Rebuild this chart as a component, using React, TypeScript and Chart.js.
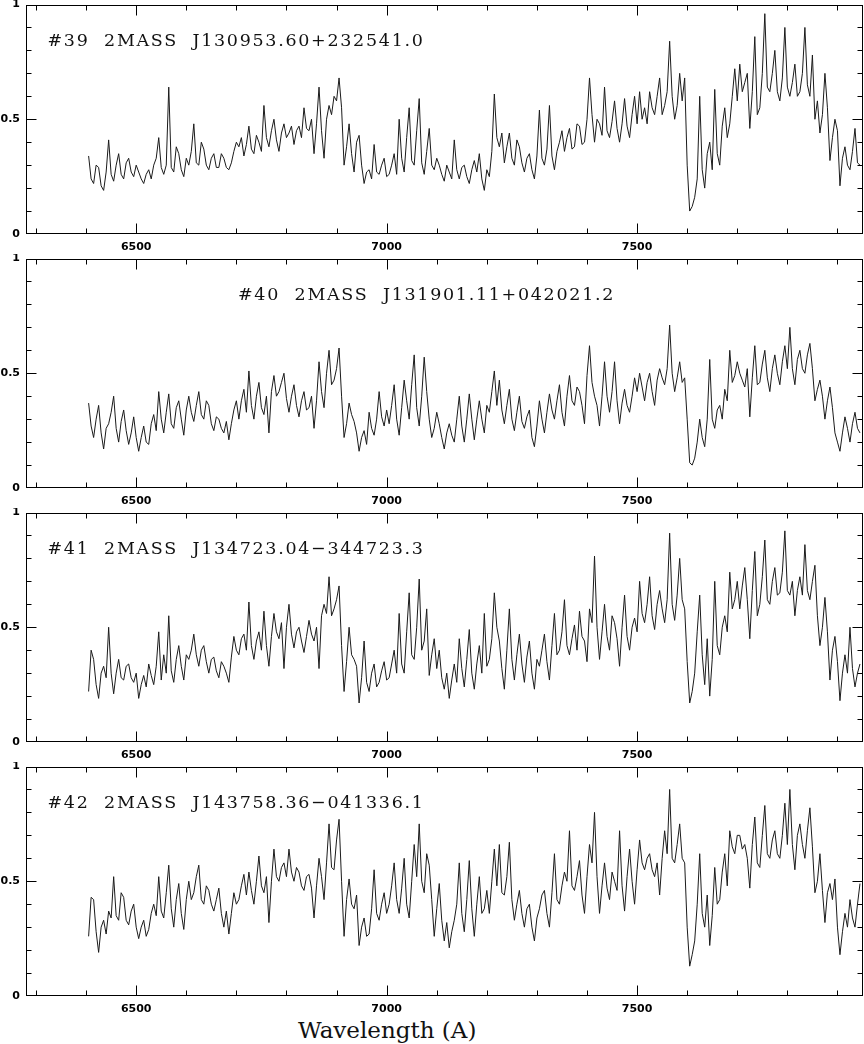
import React, { useEffect, useRef } from "react";
import { Chart, registerables } from "chart.js";

Chart.register(...registerables);

// ---- axis / grid data ----
const WAVE_START = 6405; // first sample (Angstrom)
const WAVE_STEP = 5;
const X_MIN = 6280;
const X_MAX = 7950;
const Y_MIN = 0;
const Y_MAX = 1;
const X_TICK_LABELS = [6500, 7000, 7500];
const Y_TICK_LABELS = [0, 0.5, 1];
const X_MINOR_TICKS = [
  6300, 6400, 6500, 6600, 6700, 6800, 6900, 7000, 7100, 7200, 7300, 7400,
  7500, 7600, 7700, 7800, 7900,
];
const X_MAJOR_TICKS = [6500, 7000, 7500];
const Y_MINOR_TICKS = [0.1, 0.2, 0.3, 0.4, 0.5, 0.6, 0.7, 0.8, 0.9];
const Y_MAJOR_TICKS = [0.5];

// ---- panel titles ----
const TITLES = [
  "#39  2MASS  J130953.60+232541.0",
  "#40  2MASS  J131901.11+042021.2",
  "#41  2MASS  J134723.04\u2212344723.3",
  "#42  2MASS  J143758.36\u2212041336.1",
];
const X_AXIS_TITLE = "Wavelength (A)";

// ---- flux values (one row = 100 A, from 6405 A in 5 A steps) ----
const FLUX_39 = [
  0.34, 0.24, 0.22, 0.30, 0.29, 0.21, 0.19, 0.27, 0.41, 0.26, 0.23, 0.30, 0.35, 0.26, 0.24, 0.31, 0.33, 0.27, 0.25, 0.30,
  0.27, 0.24, 0.22, 0.26, 0.28, 0.24, 0.30, 0.33, 0.42, 0.29, 0.26, 0.30, 0.64, 0.29, 0.27, 0.38, 0.35, 0.28, 0.25, 0.33,
  0.30, 0.36, 0.48, 0.31, 0.30, 0.40, 0.37, 0.30, 0.28, 0.33, 0.35, 0.29, 0.29, 0.35, 0.33, 0.29, 0.28, 0.31, 0.36, 0.40,
  0.38, 0.42, 0.34, 0.39, 0.47, 0.37, 0.35, 0.43, 0.40, 0.36, 0.56, 0.42, 0.38, 0.45, 0.50, 0.41, 0.36, 0.44, 0.48, 0.42,
  0.44, 0.47, 0.39, 0.45, 0.47, 0.42, 0.55, 0.46, 0.45, 0.50, 0.35, 0.48, 0.64, 0.45, 0.33, 0.50, 0.56, 0.52, 0.60, 0.58,
  0.68, 0.55, 0.30, 0.38, 0.48, 0.35, 0.27, 0.40, 0.43, 0.30, 0.22, 0.27, 0.28, 0.24, 0.39, 0.27, 0.26, 0.30, 0.33, 0.25,
  0.26, 0.30, 0.35, 0.26, 0.50, 0.33, 0.27, 0.42, 0.55, 0.32, 0.30, 0.45, 0.59, 0.31, 0.26, 0.36, 0.46, 0.30, 0.28, 0.33,
  0.30, 0.26, 0.23, 0.30, 0.27, 0.24, 0.41, 0.28, 0.24, 0.29, 0.30, 0.25, 0.22, 0.28, 0.32, 0.27, 0.35, 0.24, 0.19, 0.28,
  0.25, 0.36, 0.61, 0.42, 0.38, 0.44, 0.31, 0.38, 0.44, 0.33, 0.30, 0.41, 0.38, 0.31, 0.27, 0.33, 0.35, 0.28, 0.24, 0.34,
  0.54, 0.33, 0.30, 0.37, 0.56, 0.34, 0.28, 0.36, 0.40, 0.45, 0.36, 0.42, 0.46, 0.37, 0.38, 0.48, 0.47, 0.39, 0.40, 0.50,
  0.68, 0.52, 0.40, 0.50, 0.48, 0.43, 0.64, 0.45, 0.42, 0.49, 0.58, 0.46, 0.40, 0.48, 0.59, 0.47, 0.42, 0.52, 0.60, 0.48,
  0.62, 0.50, 0.55, 0.48, 0.62, 0.55, 0.52, 0.60, 0.68, 0.52, 0.56, 0.62, 0.84, 0.60, 0.50, 0.56, 0.70, 0.58, 0.68, 0.30,
  0.10, 0.12, 0.16, 0.24, 0.60, 0.28, 0.20, 0.35, 0.40, 0.28, 0.63, 0.35, 0.30, 0.47, 0.55, 0.42, 0.48, 0.60, 0.72, 0.58,
  0.74, 0.62, 0.66, 0.70, 0.46, 0.62, 0.86, 0.52, 0.55, 0.70, 0.96, 0.64, 0.62, 0.70, 0.80, 0.62, 0.58, 0.68, 0.90, 0.64,
  0.60, 0.66, 0.74, 0.60, 0.62, 0.70, 0.90, 0.65, 0.60, 0.78, 0.50, 0.58, 0.44, 0.52, 0.70, 0.55, 0.32, 0.42, 0.50, 0.45,
  0.21, 0.33, 0.38, 0.30, 0.28, 0.36, 0.46, 0.31, 0.30,
];

const FLUX_40 = [
  0.37, 0.27, 0.22, 0.30, 0.36, 0.24, 0.17, 0.26, 0.28, 0.33, 0.40, 0.26, 0.20, 0.29, 0.34, 0.25, 0.19, 0.24, 0.31, 0.22,
  0.16, 0.22, 0.27, 0.20, 0.19, 0.28, 0.32, 0.25, 0.42, 0.30, 0.24, 0.33, 0.41, 0.28, 0.26, 0.35, 0.38, 0.30, 0.23, 0.34,
  0.40, 0.33, 0.29, 0.36, 0.42, 0.32, 0.30, 0.38, 0.36, 0.28, 0.25, 0.31, 0.30, 0.26, 0.24, 0.29, 0.21, 0.28, 0.34, 0.38,
  0.30, 0.38, 0.43, 0.33, 0.51, 0.36, 0.30, 0.40, 0.46, 0.35, 0.32, 0.40, 0.24, 0.42, 0.49, 0.40, 0.42, 0.46, 0.50, 0.39,
  0.33, 0.40, 0.45, 0.36, 0.31, 0.38, 0.42, 0.34, 0.35, 0.40, 0.26, 0.38, 0.55, 0.42, 0.35, 0.50, 0.60, 0.45, 0.47, 0.52,
  0.61, 0.40, 0.22, 0.28, 0.37, 0.32, 0.29, 0.24, 0.16, 0.22, 0.25, 0.19, 0.33, 0.26, 0.23, 0.30, 0.42, 0.31, 0.27, 0.34,
  0.28, 0.36, 0.45, 0.30, 0.23, 0.35, 0.47, 0.38, 0.30, 0.45, 0.58, 0.35, 0.27, 0.40, 0.57, 0.42, 0.30, 0.22, 0.26, 0.33,
  0.28, 0.22, 0.17, 0.24, 0.28, 0.23, 0.20, 0.30, 0.40, 0.27, 0.20, 0.30, 0.41, 0.30, 0.21, 0.30, 0.38, 0.30, 0.24, 0.36,
  0.33, 0.42, 0.51, 0.36, 0.47, 0.34, 0.28, 0.36, 0.43, 0.30, 0.25, 0.33, 0.40, 0.29, 0.26, 0.31, 0.34, 0.22, 0.18, 0.27,
  0.38, 0.30, 0.24, 0.33, 0.41, 0.34, 0.30, 0.38, 0.45, 0.33, 0.27, 0.40, 0.49, 0.38, 0.36, 0.44, 0.42, 0.36, 0.28, 0.49,
  0.62, 0.46, 0.40, 0.36, 0.27, 0.40, 0.55, 0.40, 0.33, 0.42, 0.55, 0.38, 0.28, 0.37, 0.43, 0.36, 0.33, 0.40, 0.48, 0.42,
  0.50, 0.44, 0.38, 0.46, 0.50, 0.42, 0.36, 0.47, 0.52, 0.48, 0.45, 0.52, 0.71, 0.50, 0.42, 0.48, 0.55, 0.46, 0.48, 0.30,
  0.11, 0.10, 0.13, 0.20, 0.30, 0.22, 0.18, 0.30, 0.56, 0.30, 0.26, 0.34, 0.36, 0.30, 0.43, 0.38, 0.60, 0.46, 0.49, 0.55,
  0.50, 0.47, 0.44, 0.52, 0.31, 0.48, 0.62, 0.45, 0.46, 0.54, 0.60, 0.48, 0.42, 0.52, 0.58, 0.50, 0.45, 0.55, 0.62, 0.52,
  0.70, 0.52, 0.45, 0.56, 0.60, 0.52, 0.50, 0.58, 0.63, 0.52, 0.38, 0.43, 0.47, 0.40, 0.30, 0.38, 0.44, 0.35, 0.24, 0.20,
  0.16, 0.24, 0.31, 0.26, 0.20, 0.28, 0.33, 0.26, 0.24,
];

const FLUX_41 = [
  0.22, 0.40, 0.36, 0.25, 0.19, 0.30, 0.33, 0.28, 0.50, 0.30, 0.21, 0.30, 0.36, 0.28, 0.27, 0.33, 0.34, 0.28, 0.26, 0.30,
  0.19, 0.25, 0.29, 0.24, 0.34, 0.29, 0.25, 0.33, 0.48, 0.27, 0.38, 0.30, 0.55, 0.31, 0.26, 0.36, 0.42, 0.33, 0.27, 0.38,
  0.36, 0.40, 0.47, 0.38, 0.33, 0.40, 0.42, 0.35, 0.30, 0.36, 0.37, 0.31, 0.28, 0.35, 0.33, 0.30, 0.26, 0.37, 0.46, 0.40,
  0.38, 0.45, 0.47, 0.40, 0.61, 0.42, 0.36, 0.44, 0.48, 0.40, 0.57, 0.42, 0.33, 0.46, 0.56, 0.48, 0.45, 0.52, 0.32, 0.50,
  0.60, 0.47, 0.41, 0.48, 0.50, 0.44, 0.39, 0.46, 0.53, 0.47, 0.44, 0.50, 0.32, 0.55, 0.60, 0.56, 0.72, 0.55, 0.58, 0.62,
  0.68, 0.42, 0.22, 0.35, 0.50, 0.38, 0.36, 0.33, 0.17, 0.28, 0.44, 0.26, 0.22, 0.30, 0.34, 0.24, 0.26, 0.31, 0.35, 0.27,
  0.28, 0.34, 0.40, 0.30, 0.56, 0.34, 0.30, 0.48, 0.65, 0.38, 0.36, 0.50, 0.71, 0.40, 0.44, 0.58, 0.29, 0.38, 0.45, 0.32,
  0.40, 0.28, 0.23, 0.30, 0.19, 0.27, 0.34, 0.26, 0.45, 0.32, 0.24, 0.36, 0.49, 0.30, 0.23, 0.34, 0.42, 0.30, 0.56, 0.33,
  0.36, 0.45, 0.65, 0.50, 0.44, 0.32, 0.23, 0.40, 0.58, 0.36, 0.27, 0.38, 0.47, 0.34, 0.26, 0.37, 0.44, 0.30, 0.23, 0.36,
  0.33, 0.40, 0.47, 0.35, 0.27, 0.42, 0.56, 0.38, 0.40, 0.48, 0.62, 0.42, 0.38, 0.45, 0.51, 0.40, 0.57, 0.46, 0.44, 0.35,
  0.58, 0.52, 0.81, 0.50, 0.36, 0.48, 0.60, 0.46, 0.40, 0.55, 0.52, 0.45, 0.33, 0.50, 0.64, 0.46, 0.40, 0.50, 0.54, 0.48,
  0.70, 0.56, 0.52, 0.60, 0.72, 0.55, 0.49, 0.60, 0.66, 0.58, 0.52, 0.62, 0.91, 0.60, 0.53, 0.64, 0.80, 0.62, 0.58, 0.35,
  0.17, 0.22, 0.30, 0.48, 0.64, 0.38, 0.25, 0.45, 0.20, 0.36, 0.70, 0.42, 0.38, 0.50, 0.55, 0.48, 0.74, 0.58, 0.62, 0.70,
  0.58, 0.68, 0.76, 0.62, 0.45, 0.66, 0.83, 0.55, 0.60, 0.72, 0.88, 0.62, 0.60, 0.70, 0.76, 0.64, 0.65, 0.74, 0.92, 0.66,
  0.64, 0.70, 0.55, 0.66, 0.72, 0.64, 0.86, 0.66, 0.62, 0.70, 0.77, 0.55, 0.42, 0.50, 0.63, 0.48, 0.27, 0.40, 0.46, 0.35,
  0.18, 0.30, 0.38, 0.30, 0.50, 0.32, 0.24, 0.30, 0.34,
];

const FLUX_42 = [
  0.26, 0.43, 0.42, 0.28, 0.19, 0.30, 0.33, 0.27, 0.37, 0.34, 0.52, 0.35, 0.33, 0.45, 0.43, 0.33, 0.31, 0.37, 0.40, 0.30,
  0.25, 0.30, 0.33, 0.26, 0.29, 0.36, 0.40, 0.35, 0.52, 0.37, 0.34, 0.45, 0.57, 0.38, 0.30, 0.42, 0.49, 0.36, 0.29, 0.42,
  0.50, 0.42, 0.45, 0.52, 0.57, 0.42, 0.40, 0.48, 0.46, 0.40, 0.37, 0.42, 0.47, 0.36, 0.30, 0.37, 0.27, 0.36, 0.45, 0.40,
  0.42, 0.48, 0.53, 0.44, 0.54, 0.46, 0.40, 0.50, 0.61, 0.48, 0.45, 0.52, 0.32, 0.50, 0.64, 0.52, 0.50, 0.56, 0.58, 0.52,
  0.64, 0.54, 0.50, 0.56, 0.54, 0.48, 0.46, 0.52, 0.53, 0.47, 0.34, 0.48, 0.60, 0.52, 0.42, 0.58, 0.75, 0.56, 0.55, 0.68,
  0.77, 0.50, 0.26, 0.42, 0.51, 0.40, 0.38, 0.44, 0.22, 0.30, 0.34, 0.26, 0.27, 0.38, 0.55, 0.36, 0.33, 0.40, 0.45, 0.36,
  0.40, 0.48, 0.58, 0.42, 0.36, 0.47, 0.60, 0.40, 0.34, 0.50, 0.66, 0.52, 0.75, 0.50, 0.45, 0.62, 0.57, 0.42, 0.26, 0.38,
  0.49, 0.33, 0.24, 0.32, 0.21, 0.28, 0.33, 0.40, 0.58, 0.36, 0.28, 0.42, 0.59, 0.38, 0.26, 0.40, 0.52, 0.36, 0.38, 0.46,
  0.36, 0.50, 0.64, 0.48, 0.66, 0.45, 0.44, 0.52, 0.67, 0.42, 0.33, 0.40, 0.46, 0.36, 0.30, 0.38, 0.40, 0.30, 0.24, 0.34,
  0.38, 0.44, 0.46, 0.36, 0.30, 0.45, 0.62, 0.42, 0.40, 0.48, 0.54, 0.50, 0.72, 0.48, 0.46, 0.52, 0.59, 0.44, 0.36, 0.52,
  0.66, 0.58, 0.80, 0.52, 0.36, 0.48, 0.58, 0.47, 0.42, 0.54, 0.50, 0.46, 0.72, 0.48, 0.37, 0.52, 0.64, 0.50, 0.40, 0.55,
  0.68, 0.58, 0.55, 0.60, 0.62, 0.55, 0.52, 0.58, 0.44, 0.60, 0.72, 0.62, 0.90, 0.60, 0.58, 0.66, 0.75, 0.60, 0.58, 0.30,
  0.13, 0.18, 0.24, 0.40, 0.62, 0.36, 0.30, 0.44, 0.22, 0.35, 0.56, 0.40, 0.42, 0.54, 0.62, 0.48, 0.72, 0.65, 0.62, 0.70,
  0.70, 0.64, 0.66, 0.60, 0.47, 0.66, 0.78, 0.58, 0.56, 0.70, 0.83, 0.62, 0.60, 0.68, 0.72, 0.62, 0.60, 0.70, 0.84, 0.66,
  0.90, 0.66, 0.55, 0.70, 0.75, 0.66, 0.60, 0.72, 0.82, 0.65, 0.45, 0.50, 0.62, 0.46, 0.32, 0.45, 0.49, 0.42, 0.51, 0.30,
  0.18, 0.28, 0.36, 0.30, 0.42, 0.34, 0.30, 0.40, 0.49,
];

const PANELS = [
  { flux: FLUX_39, title: TITLES[0], titleLeft: 47.5 },
  { flux: FLUX_40, title: TITLES[1], titleLeft: 238 },
  { flux: FLUX_41, title: TITLES[2], titleLeft: 47.5 },
  { flux: FLUX_42, title: TITLES[3], titleLeft: 47.5 },
];

const W = 864;
const PANEL_H = 254;

const framePlugin = {
  id: "pgplotFrame",
  afterDraw(chart: any) {
    const { ctx, chartArea: a, scales } = chart;
    const xs = scales.x;
    const ys = scales.y;
    const L = Math.round(a.left) + 0.5;
    const R = Math.round(a.right) - 0.5;
    const T = Math.round(a.top) + 0.5;
    const B = Math.round(a.bottom) - 0.5;
    ctx.save();
    ctx.strokeStyle = "#000";
    ctx.lineWidth = 1;
    ctx.beginPath();
    for (const w of X_MINOR_TICKS) {
      const px = Math.round(xs.getPixelForValue(w)) + 0.5;
      const len = X_MAJOR_TICKS.includes(w) ? 10 : 5;
      ctx.moveTo(px, B);
      ctx.lineTo(px, B - len);
      ctx.moveTo(px, T);
      ctx.lineTo(px, T + len);
    }
    for (const v of Y_MINOR_TICKS) {
      const py = Math.round(ys.getPixelForValue(v)) + 0.5;
      const len = Y_MAJOR_TICKS.includes(v) ? 10 : 5;
      ctx.moveTo(L, py);
      ctx.lineTo(L + len, py);
      ctx.moveTo(R, py);
      ctx.lineTo(R - len, py);
    }
    ctx.stroke();
    ctx.strokeRect(L, T, R - L, B - T);
    ctx.restore();
  },
};

function SpectrumPanel({
  flux,
  title,
  titleLeft,
  top,
}: {
  flux: number[];
  title: string;
  titleLeft: number;
  top: number;
}) {
  const ref = useRef<HTMLCanvasElement>(null);
  useEffect(() => {
    if (!ref.current) return;
    const points = flux.map((f, i) => ({ x: WAVE_START + i * WAVE_STEP, y: f }));
    const chart = new Chart(ref.current, {
      type: "line",
      data: {
        datasets: [
          {
            data: points,
            borderColor: "#1a1a1a",
            borderWidth: 1,
            pointRadius: 0,
            tension: 0,
            fill: false,
          },
        ],
      },
      options: {
        responsive: false,
        animation: false,
        devicePixelRatio: 1,
        layout: { padding: { top: 4.5, right: 1.5, left: 0, bottom: 0 } },
        plugins: {
          legend: { display: false },
          tooltip: { enabled: false },
          title: { display: false },
        },
        scales: {
          x: {
            type: "linear",
            min: X_MIN,
            max: X_MAX,
            grid: { display: false, drawTicks: false },
            border: { display: false },
            afterBuildTicks: (s: any) => {
              s.ticks = X_TICK_LABELS.map((v) => ({ value: v }));
            },
            afterFit: (s: any) => {
              s.height = 20;
              s.paddingLeft = 0;
              s.paddingRight = 0;
            },
            ticks: {
              color: "#000",
              padding: 7,
              maxRotation: 0,
              autoSkip: false,
              font: { family: "DejaVu Sans", size: 11, weight: "bold" },
              callback: (v: any) => String(v),
            },
          },
          y: {
            type: "linear",
            min: Y_MIN,
            max: Y_MAX,
            grid: { display: false, drawTicks: false },
            border: { display: false },
            afterBuildTicks: (s: any) => {
              s.ticks = Y_TICK_LABELS.map((v) => ({ value: v }));
            },
            afterFit: (s: any) => {
              s.width = 26;
              s.paddingTop = 0;
              s.paddingBottom = 0;
            },
            ticks: {
              color: "#000",
              padding: 6,
              autoSkip: false,
              font: { family: "DejaVu Sans", size: 11, weight: "bold" },
              callback: (v: any) => String(v),
            },
          },
        },
      },
      plugins: [framePlugin],
    });
    return () => chart.destroy();
  }, [flux]);

  return (
    <div style={{ position: "absolute", left: 0, top, width: W, height: PANEL_H }}>
      <canvas ref={ref} width={W} height={PANEL_H} style={{ display: "block", width: W, height: PANEL_H }} />
      <div
        style={{
          position: "absolute",
          left: titleLeft,
          top: 31.5,
          fontFamily: "'DejaVu Serif', serif",
          fontSize: 17.5,
          lineHeight: "17.5px",
          letterSpacing: "1.7px",
          whiteSpace: "pre",
          color: "#111",
        }}
      >
        {title}
      </div>
    </div>
  );
}

export default function App() {
  return (
    <div
      style={{
        position: "absolute",
        left: 0,
        top: 0,
        width: W,
        height: 1044,
        background: "#fff",
        overflow: "hidden",
      }}
    >
      {PANELS.map((p, i) => (
        <SpectrumPanel key={i} flux={p.flux} title={p.title} titleLeft={p.titleLeft} top={i * PANEL_H} />
      ))}
      <div
        style={{
          position: "absolute",
          left: 298,
          top: 1018.8,
          fontFamily: "'DejaVu Serif', serif",
          fontSize: 23,
          lineHeight: "23px",
          whiteSpace: "pre",
          color: "#111",
        }}
      >
        {X_AXIS_TITLE}
      </div>
    </div>
  );
}
